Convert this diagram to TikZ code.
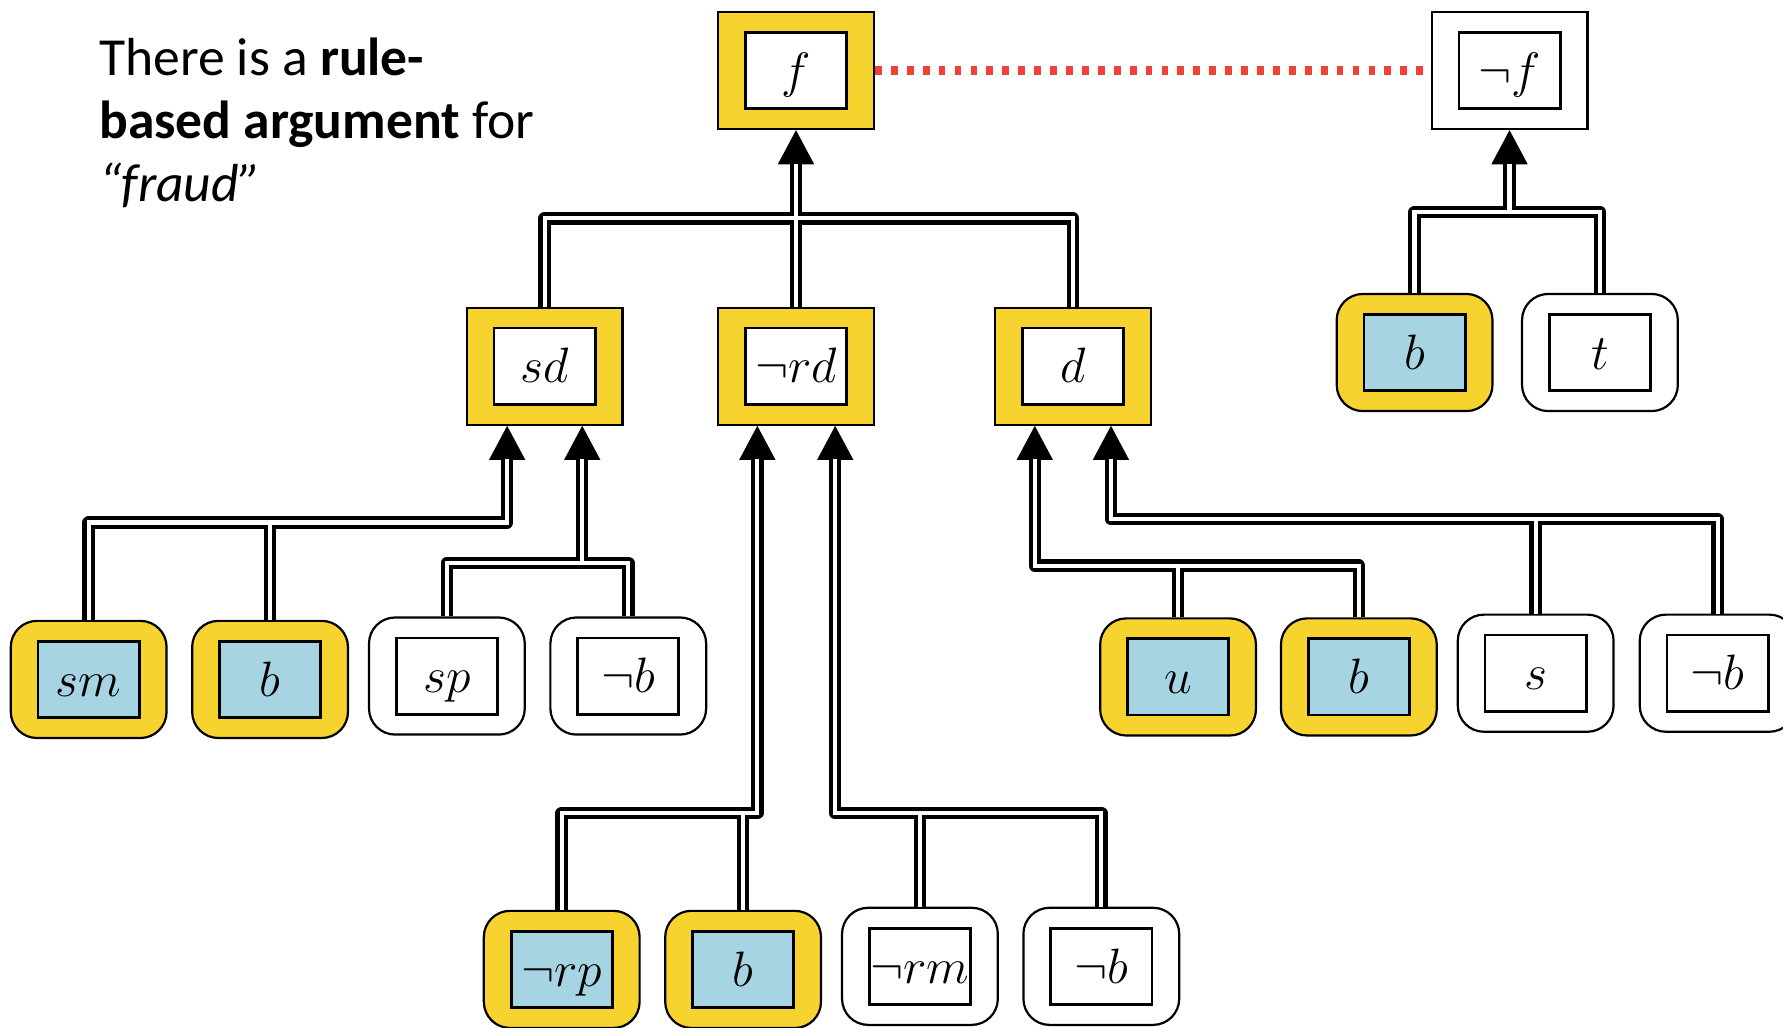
\documentclass[tikz,border=0pt]{standalone}
\usepackage{fontspec}
\newfontfamily\calib{Carlito}
\usetikzlibrary{arrows.meta}
\definecolor{ylw}{RGB}{247,211,47}
\definecolor{lblu}{RGB}{166,212,226}
\definecolor{rdot}{RGB}{239,65,54}
\tikzset{
  obox/.style={draw, line width=1.1pt, minimum width=27.4mm, minimum height=20.6mm, inner sep=0pt},
  rbox/.style={obox, fill=ylw},
  rboxw/.style={obox, fill=white},
  pbox/.style={obox, rounded corners=4.6mm, fill=ylw},
  pboxw/.style={obox, rounded corners=4.6mm, fill=white},
  ibox/.style={draw, line width=1.4pt, fill=white, minimum width=17.8mm, minimum height=13.4mm,
    inner sep=0pt, text height=5.9mm, text depth=0pt, font=\fontsize{24}{28}\selectfont},
  iblue/.style={ibox, fill=lblu},
  blk/.style={line width=2.2mm, line join=round, black},
  wht/.style={line width=0.75mm, white},
  arrtip/.style={-{Triangle[length=6mm,width=6.4mm,line width=0pt]}},
  txt/.style={font=\calib\fontsize{26.8}{31.7}\selectfont, anchor=base west, inner sep=0pt},
  reddots/.style={draw=rdot, line width=1.46mm, dash pattern=on 1.2mm off 1.6mm}
}
\newcommand\conns[2]{%
  \draw[#1] (sd.north) |- (d.north |- j0) -- (d.north);
  \draw[#1,#2] (nrd.north) -- (f.south);
  \draw[#1,#2] (sm.north) |- (j1) -- (sd.south -| j1);
  \draw[#1] (b1.north) -- (b1.north |- j1);
  \draw[#1] (sp.north) |- (nb1.north |- j2) -- (nb1.north);
  \draw[#1,#2] (j2) -- (sd.south -| j2);
  \draw[#1,#2] (nrp.north) |- (j3) -- (nrd.south -| j3);
  \draw[#1] (b3.north) -- (b3.north |- j3);
  \draw[#1,#2] (nb3.north) |- (j4) -- (nrd.south -| j4);
  \draw[#1] (nrm.north) -- (nrm.north |- j4);
  \draw[#1,#2] (b2.north) |- (j5) -- (d.south -| j5);
  \draw[#1] (u.north) -- (u.north |- j5);
  \draw[#1,#2] (nb2.north) |- (j6) -- (d.south -| j6);
  \draw[#1] (s.north) -- (s.north |- j6);
  \draw[#1] (b4.north) |- (t.north |- j7) -- (t.north);
  \draw[#1,#2] (j7) -- (nf.south);
}
\begin{document}
\begin{tikzpicture}[x=0.2mm, y=-0.2mm]
\useasboundingbox (0,0) rectangle (1568,904);
\clip (0,0) rectangle (1568,904);

% text
\node[txt] (t1) at (87,66) {There is a \textbf{rule-}};
\node[txt] (t2) at (87,121.7) {\textbf{based argument} for};
\node[txt] (t3) at (87,177.4) {\textit{“fraud”}};

% conclusions
\node[rbox] (f) at (700,62) {};       \node[ibox] (fi) at (f) {$f$};
\node[rboxw] (nf) at (1327.5,62) {};  \node[ibox] (nfi) at (nf) {$\neg f$};
\node[rbox] (sd) at (479,322) {};     \node[ibox] (sdi) at (sd) {$sd$};
\node[rbox] (nrd) at (700,322) {};    \node[ibox] (nrdi) at (nrd) {$\neg rd$};
\node[rbox] (d) at (943.5,322) {};    \node[ibox] (di) at (d) {$d$};

% premises row 1
\node[pbox] (sm) at (78,597.5) {};      \node[iblue] (smi) at (sm) {$sm$};
\node[pbox] (b1) at (237.5,597.5) {};   \node[iblue] (b1i) at (b1) {$b$};
\node[pboxw] (sp) at (393,594.5) {};    \node[ibox] (spi) at (sp) {$sp$};
\node[pboxw] (nb1) at (552.5,594.5) {}; \node[ibox] (nb1i) at (nb1) {$\neg b$};
\node[pbox] (u) at (1036,595.3) {};     \node[iblue] (ui) at (u) {$u$};
\node[pbox] (b2) at (1195,595.3) {};    \node[iblue] (b2i) at (b2) {$b$};
\node[pboxw] (s) at (1350.5,592) {};    \node[ibox] (si) at (s) {$s$};
\node[pboxw] (nb2) at (1510.5,592) {};  \node[ibox] (nb2i) at (nb2) {$\neg b$};

% premises row 2
\node[pbox] (nrp) at (494,852.5) {};    \node[iblue] (nrpi) at (nrp) {$\neg rp$};
\node[pbox] (b3) at (653.5,852.5) {};   \node[iblue] (b3i) at (b3) {$b$};
\node[pboxw] (nrm) at (809,849.8) {};   \node[ibox] (nrmi) at (nrm) {$\neg rm$};
\node[pboxw] (nb3) at (968.5,849.8) {}; \node[ibox] (nb3i) at (nb3) {$\neg b$};

% premises of not f
\node[pbox] (b4) at (1244,310) {};      \node[iblue] (b4i) at (b4) {$b$};
\node[pboxw] (t) at (1407,310) {};      \node[ibox] (ti) at (t) {$t$};

% junctions
\coordinate (j0) at (700,192);
\coordinate (j1) at (446,459.5);
\coordinate (j2) at (512,495);
\coordinate (j3) at (666,715);
\coordinate (j4) at (734.5,715);
\coordinate (j5) at (910,497.5);
\coordinate (j6) at (977,456.5);
\coordinate (j7) at (1327.5,186.5);

\conns{blk}{arrtip}
\conns{wht}{shorten >=5.9mm}

% conflict
\draw[reddots] (f) -- (nf);
\end{tikzpicture}
\end{document}
